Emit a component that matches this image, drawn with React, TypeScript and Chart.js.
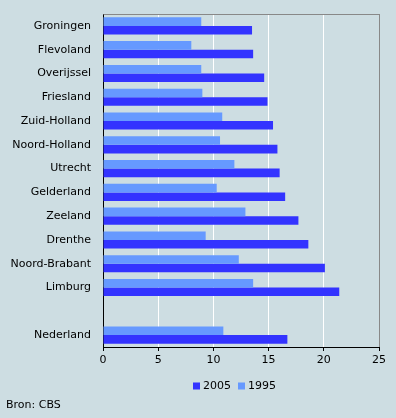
import React, { useEffect, useRef } from 'react';
import { Chart, registerables } from 'chart.js';

Chart.register(...registerables);

const categories = ['Groningen', 'Flevoland', 'Overijssel', 'Friesland', 'Zuid-Holland', 'Noord-Holland', 'Utrecht', 'Gelderland', 'Zeeland', 'Drenthe', 'Noord-Brabant', 'Limburg', '', 'Nederland'];
const values1995 = [8.9, 8.0, 8.9, 9.0, 10.8, 10.6, 11.9, 10.3, 12.9, 9.3, 12.3, 13.6, null, 10.9];
const values2005 = [13.5, 13.6, 14.6, 14.9, 15.4, 15.8, 16.0, 16.5, 17.7, 18.6, 20.1, 21.4, null, 16.7];
const xTicks = [0, 5, 10, 15, 20, 25];
const seriesNames = ['1995', '2005'];
const legendOrder = ['2005', '1995'];
const sourceText = 'Bron: CBS';

const BG = '#cddde2';
const COLORS: Record<string, string> = { '1995': '#6699ff', '2005': '#3333ff' };

const decorPlugin = {
  id: 'decor',
  beforeDatasetsDraw(chart: any) {
    const { ctx, chartArea } = chart;
    ctx.save();
    ctx.strokeStyle = '#888888';
    ctx.lineWidth = 1;
    ctx.beginPath();
    ctx.moveTo(Math.round(chartArea.left) + 0.5, Math.round(chartArea.top) + 0.5);
    ctx.lineTo(Math.round(chartArea.right) + 0.5, Math.round(chartArea.top) + 0.5);
    ctx.stroke();
    ctx.restore();
  },
  afterDraw(chart: any) {
    const { ctx, chartArea } = chart;
    ctx.save();
    ctx.font = '11px "DejaVu Sans"';
    ctx.textBaseline = 'middle';
    ctx.textAlign = 'left';
    const y = chartArea.bottom + 39;
    let x = chartArea.left + 90;
    legendOrder.forEach((name) => {
      ctx.fillStyle = COLORS[name];
      ctx.fillRect(x, y - 3.5, 7, 7);
      ctx.fillStyle = '#000';
      ctx.fillText(name, x + 10, y);
      x += 10 + ctx.measureText(name).width + 7;
    });
    ctx.fillStyle = '#000';
    ctx.fillText(sourceText, 6, chartArea.bottom + 58);
    ctx.restore();
  },
};

export default function App() {
  const ref = useRef<HTMLCanvasElement | null>(null);

  useEffect(() => {
    if (!ref.current) return;
    Chart.defaults.font.family = '"DejaVu Sans"';
    Chart.defaults.font.size = 11;
    Chart.defaults.color = '#000';
    const chart = new Chart(ref.current, {
      type: 'bar',
      data: {
        labels: categories,
        datasets: [
          { label: seriesNames[0], data: values1995, backgroundColor: COLORS['1995'], categoryPercentage: 0.72, barPercentage: 1.0 },
          { label: seriesNames[1], data: values2005, backgroundColor: COLORS['2005'], categoryPercentage: 0.72, barPercentage: 1.0 },
        ],
      },
      options: {
        indexAxis: 'y',
        responsive: false,
        animation: false,
        layout: { padding: { top: 14, left: 0, right: 17, bottom: 51 } },
        plugins: {
          legend: { display: false },
          tooltip: { enabled: false },
          title: { display: false },
        },
        scales: {
          x: {
            type: 'linear',
            min: 0,
            max: 25,
            afterBuildTicks: (s: any) => {
              s.ticks = xTicks.map((v) => ({ value: v }));
            },
            afterFit: (s: any) => {
              s.height = 20;
            },
            ticks: { padding: 3, color: '#000', font: { size: 11 } },
            grid: {
              color: (c: any) => (c.tick && c.tick.value === 25 ? '#888888' : c.tick && c.tick.value === 0 ? '#000000' : '#ffffff'),
              tickColor: '#000',
              tickLength: 4,
              lineWidth: 1,
            },
            border: { display: true, color: '#000' },
          },
          y: {
            type: 'category',
            afterFit: (s: any) => {
              s.width = 103;
              s.paddingTop = 0;
              s.paddingBottom = 0;
            },
            ticks: { padding: 12, color: '#000', autoSkip: false, font: { size: 11 } },
            grid: { display: false, drawTicks: false },
            border: { display: true, color: '#000' },
          },
        },
      },
      plugins: [decorPlugin],
    });
    return () => chart.destroy();
  }, []);

  return (
    <div style={{ position: 'absolute', left: 0, top: 0, width: 396, height: 418, background: BG }}>
      <canvas ref={ref} width={396} height={418} style={{ width: 396, height: 418, display: 'block' }} />
    </div>
  );
}
